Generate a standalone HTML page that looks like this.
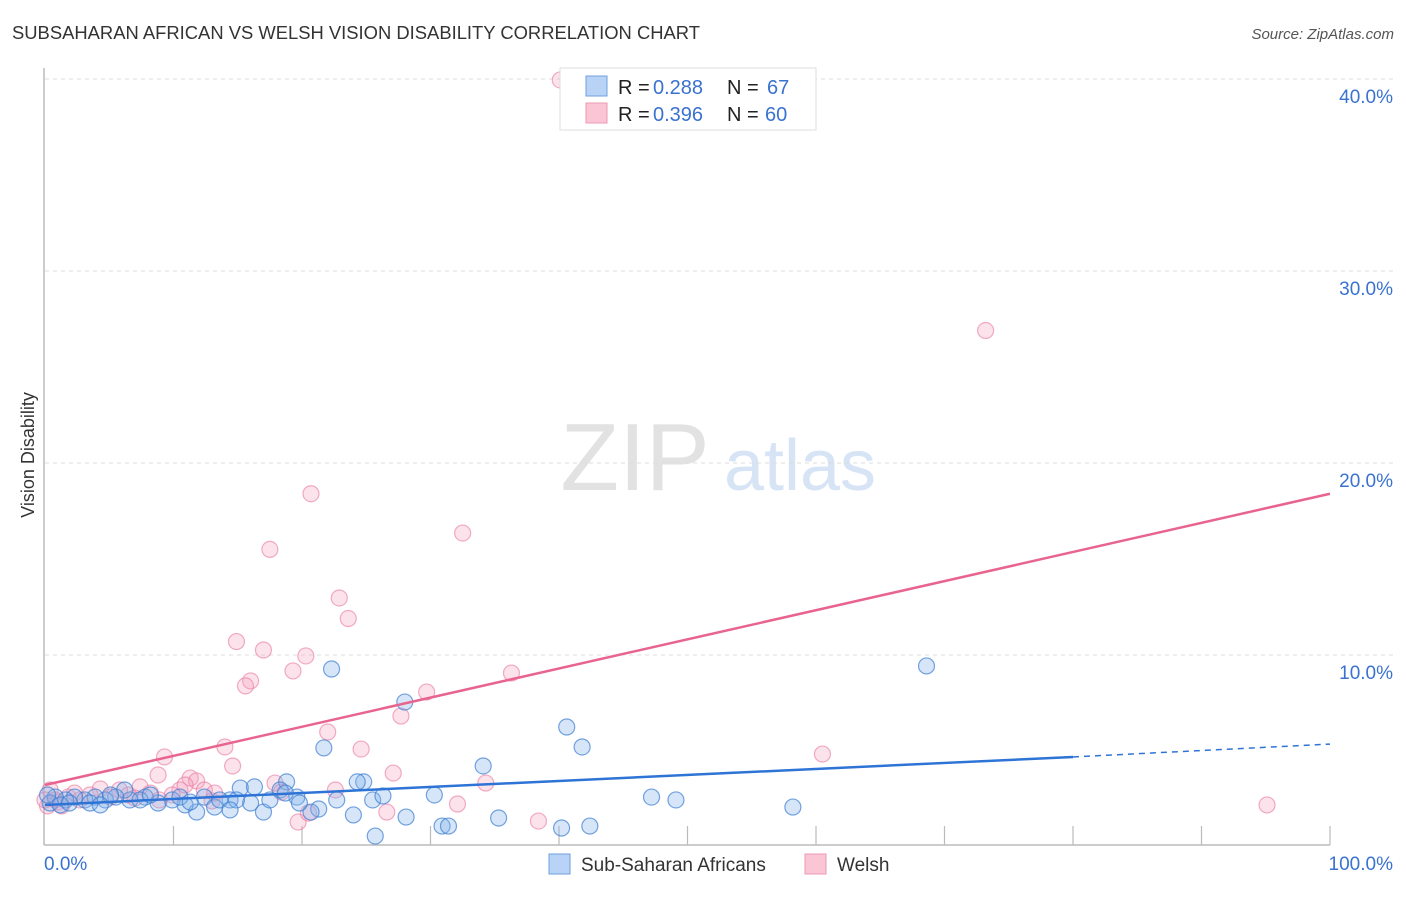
<!DOCTYPE html>
<html><head><meta charset="utf-8"><style>
body{margin:0;background:#fff;font-family:"Liberation Sans",sans-serif}
svg text{font-family:"Liberation Sans",sans-serif}
</style></head><body>
<svg id="chart" width="1406" height="892" viewBox="0 0 1406 892">
<text x="12" y="39" font-size="18" fill="#333" textLength="688" lengthAdjust="spacingAndGlyphs">SUBSAHARAN AFRICAN VS WELSH VISION DISABILITY CORRELATION CHART</text>
<text x="1394" y="39" font-size="15" fill="#555" font-style="italic" text-anchor="end">Source: ZipAtlas.com</text>
<g>
<text x="635" y="490" font-size="96" font-family="Liberation Serif" fill="#e2e2e2" text-anchor="middle">ZIP</text>
<text x="800" y="490" font-size="72" fill="#d6e4f5" text-anchor="middle">atlas</text>
</g>
<g id="grid"></g>
<g id="axes"></g>
<text transform="translate(34,455) rotate(-90)" font-size="18" fill="#333" text-anchor="middle">Vision Disability</text>
<g id="points"></g>
<g id="lines"></g>
<g>
<rect x="560" y="68" width="256" height="62" fill="#fff" stroke="#ddd"/>
<rect x="586" y="76" width="21" height="20" fill="#b8d3f5" stroke="#6fa0e0"/>
<rect x="586" y="103" width="21" height="20" fill="#fac6d6" stroke="#ec9ab4"/>
<text x="618" y="94" font-size="20" fill="#222">R =</text>
<text x="653" y="94" font-size="20" fill="#3a72d0">0.288</text>
<text x="727" y="94" font-size="20" fill="#222">N =</text>
<text x="767" y="94" font-size="20" fill="#3a72d0">67</text>
<text x="618" y="121" font-size="20" fill="#222">R =</text>
<text x="653" y="121" font-size="20" fill="#3a72d0">0.396</text>
<text x="727" y="121" font-size="20" fill="#222">N =</text>
<text x="765" y="121" font-size="20" fill="#3a72d0">60</text>
</g>
<g>
<rect x="549" y="854" width="21" height="20" fill="#b8d3f5" stroke="#6fa0e0"/>
<text x="581" y="871" font-size="19" fill="#333">Sub-Saharan Africans</text>
<rect x="805" y="854" width="21" height="20" fill="#fac6d6" stroke="#ec9ab4"/>
<text x="837" y="871" font-size="19" fill="#333">Welsh</text>
</g>
</svg>
<script>
const yTicks=[10,20,30,40];
const yTickLabels=["10.0%","20.0%","30.0%","40.0%"];
const xTickLabels=["0.0%","100.0%"];
const blueX=[22.3,28.0,21.7,40.6,41.8,68.6,34.1,24.8,24.3,18.8,30.3,25.5,26.3,22.7,47.2,49.1,58.2,35.3,28.1,24.0,21.3,20.7,25.7,30.9,31.4,40.2,42.4,17.0,15.2,16.3,14.4,12.4,13.2,11.8,10.9,9.9,8.8,7.8,6.6,6.2,5.5,4.7,3.9,3.1,2.3,1.6,0.8,0.4,0.2,1.2,17.5,19.6,19.8,18.3,13.6,10.5,7.4,16.0,5.1,3.5,11.3,1.9,4.3,14.9,8.2,18.7,14.4];
const blueY=[9.27,7.55,5.16,6.25,5.21,9.43,4.22,3.39,3.39,3.39,2.71,2.45,2.66,2.45,2.6,2.45,2.08,1.51,1.56,1.67,1.98,1.82,0.57,1.09,1.09,0.99,1.09,1.82,3.07,3.13,2.45,2.6,2.08,1.82,2.19,2.45,2.29,2.6,2.45,2.97,2.6,2.45,2.6,2.45,2.6,2.45,2.6,2.29,2.71,2.19,2.45,2.6,2.29,2.97,2.45,2.6,2.45,2.29,2.71,2.29,2.34,2.29,2.19,2.45,2.71,2.81,1.93];
const pinkX=[40.1,73.2,20.7,32.5,17.5,22.9,23.6,14.9,17.0,20.3,19.3,36.3,16.0,15.6,29.7,27.7,22.0,14.0,24.6,9.3,60.5,14.6,8.8,27.1,34.3,22.6,32.1,26.6,38.4,19.7,95.1,20.5,11.3,11.8,12.4,17.9,13.0,10.5,9.9,7.4,6.5,4.3,3.5,2.7,1.8,1.0,0.4,0.2,0.8,5.1,8.2,5.8,8.9,18.4,0,1.3,2.3,7.0,13.2,10.9];
const pinkY=[39.95,26.9,18.4,16.35,15.5,12.97,11.9,10.7,10.26,9.95,9.17,9.06,8.65,8.39,8.07,6.82,5.99,5.21,5.1,4.69,4.84,4.22,3.75,3.85,3.33,2.97,2.24,1.82,1.35,1.3,2.19,1.77,3.59,3.44,2.97,3.33,2.4,2.97,2.71,3.13,2.71,3.02,2.71,2.45,2.6,2.34,2.97,2.14,2.45,2.6,2.81,2.97,2.45,2.86,2.45,2.14,2.81,2.55,2.81,3.23];
const blueLine=[2.19,4.69,5.36]; // at 0, 80, 100
const pinkLine=[3.23,18.4];      // at 0, 100
const NS="http://www.w3.org/2000/svg";
const X=v=>45+v*12.85, Y=v=>847-v*19.2;
function mk(tag,attrs,parent){const e=document.createElementNS(NS,tag);for(const k in attrs)e.setAttribute(k,attrs[k]);parent.appendChild(e);return e;}
const grid=document.getElementById('grid'),axes=document.getElementById('axes'),pts=document.getElementById('points'),lines=document.getElementById('lines');
yTicks.forEach((t,i)=>{
 const l=mk('line',{x1:45,x2:1395,y1:Y(t),y2:Y(t),stroke:'#ddd','stroke-dasharray':'4,4'},grid);
 
 
 const tx=mk('text',{x:1393,y:Y(t)+24,'font-size':19,fill:'#3a72d0','text-anchor':'end'},axes);
 tx.textContent=yTickLabels[i];
 
 
});
const ya=mk('line',{x1:44,x2:44,y1:68,y2:845,stroke:'#bbb','stroke-width':1.5},axes);


const xa=mk('line',{x1:44,x2:1330,y1:845,y2:845,stroke:'#bbb','stroke-width':1.5},axes);


for(let i=1;i<=10;i++){const tk=mk('line',{x1:X(i*10),x2:X(i*10),y1:826,y2:845,stroke:'#bbb','stroke-width':1.2},axes);
 
 }
const xl0=mk('text',{x:44,y:870,'font-size':19,fill:'#3a72d0'},axes);xl0.textContent=xTickLabels[0];


const xl1=mk('text',{x:1393,y:870,'font-size':19,fill:'#3a72d0','text-anchor':'end'},axes);xl1.textContent=xTickLabels[1];


pinkX.forEach((x,i)=>{const c=mk('circle',{cx:X(x),cy:Y(pinkY[i]),r:8,fill:'rgba(245,160,190,0.3)',stroke:'rgba(232,120,160,0.6)','stroke-width':1.2},pts);
 
 });
blueX.forEach((x,i)=>{const c=mk('circle',{cx:X(x),cy:Y(blueY[i]),r:8,fill:'rgba(130,180,235,0.33)',stroke:'rgba(60,125,210,0.7)','stroke-width':1.2},pts);
 
 });
const pl=mk('line',{x1:X(0),y1:Y(pinkLine[0]),x2:X(100),y2:Y(pinkLine[1]),stroke:'#e8648e','stroke-width':2.5},lines);


const bl=mk('line',{x1:X(0),y1:Y(blueLine[0]),x2:X(80),y2:Y(blueLine[1]),stroke:'#2e74d6','stroke-width':2.5},lines);


const bd=mk('line',{x1:X(80),y1:Y(blueLine[1]),x2:X(100),y2:Y(blueLine[2]),stroke:'#2e74d6','stroke-width':1.5,'stroke-dasharray':'6,5'},lines);


</script>
</body></html>
